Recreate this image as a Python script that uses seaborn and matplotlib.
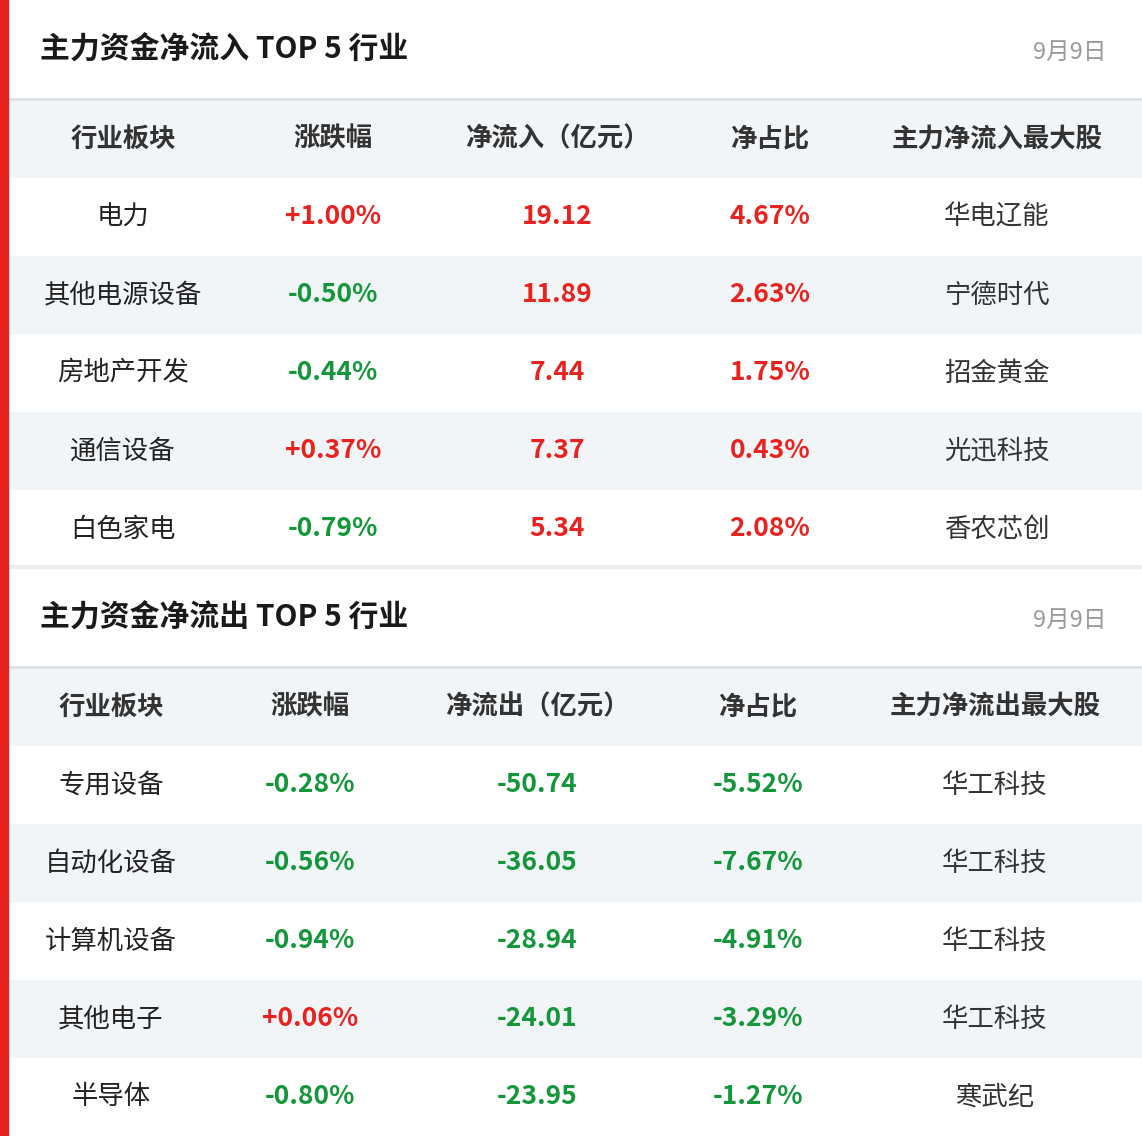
import seaborn as sns
import matplotlib.pyplot as plt

sns.set_theme(style="white")
plt.rcParams['font.family'] = ['Noto Sans CJK SC', 'DejaVu Sans']

date = "9月9日"
in_title = "主力资金净流入 TOP 5 行业"
in_header = ["行业板块", "涨跌幅", "净流入（亿元）", "净占比", "主力净流入最大股"]
in_sector = ["电力", "其他电源设备", "房地产开发", "通信设备", "白色家电"]
in_change = [1.00, -0.50, -0.44, 0.37, -0.79]
in_flow = [19.12, 11.89, 7.44, 7.37, 5.34]
in_ratio = [4.67, 2.63, 1.75, 0.43, 2.08]
in_stock = ["华电辽能", "宁德时代", "招金黄金", "光迅科技", "香农芯创"]

out_title = "主力资金净流出 TOP 5 行业"
out_header = ["行业板块", "涨跌幅", "净流出（亿元）", "净占比", "主力净流出最大股"]
out_sector = ["专用设备", "自动化设备", "计算机设备", "其他电子", "半导体"]
out_change = [-0.28, -0.56, -0.94, 0.06, -0.80]
out_flow = [-50.74, -36.05, -28.94, -24.01, -23.95]
out_ratio = [-5.52, -7.67, -4.91, -3.29, -1.27]
out_stock = ["华工科技", "华工科技", "华工科技", "华工科技", "寒武纪"]

RED, GREEN, GRAY_BG = "#e8231f", "#13973a", "#f2f5f8"
W, H = 1142, 1136

fig = plt.figure(figsize=(W / 100, H / 100), dpi=100)
ax = fig.add_axes([0, 0, 1, 1])
ax.set_xlim(0, W)
ax.set_ylim(H, 0)
ax.axis("off")

ax.axvspan(0, 8, color=RED, zorder=3)


def col(v):
    return RED if v > 0 else GREEN


def draw_table(top, title, header, sector, change, flow, ratio, stock, xs):
    ax.text(40, top + 50, title, fontsize=21.5, fontweight="bold", color="#1a1a1a", va="center")
    ax.text(1107, top + 52, date, fontsize=17, color="#9a9a9a", va="center", ha="right")
    ax.plot([8, W], [top + 99, top + 99], color="#dde1e5", lw=2)
    rh = 78
    y0 = top + 100
    ax.axhspan(y0, y0 + rh, xmin=8 / W, color=GRAY_BG, lw=0)
    for x, h in zip(xs, header):
        ax.text(x, y0 + rh / 2, h, fontsize=19, fontweight="bold", color="#333333", ha="center", va="center")
    for i in range(len(sector)):
        ry = y0 + rh * (i + 1)
        if i % 2 == 1:
            ax.axhspan(ry, ry + rh, xmin=8 / W, color=GRAY_BG, lw=0)
        cy = ry + rh / 2
        ax.text(xs[0], cy, sector[i], fontsize=19, color="#222222", ha="center", va="center")
        ax.text(xs[1], cy, f"{change[i]:+.2f}%", fontsize=19, fontweight="bold", color=col(change[i]), ha="center", va="center")
        ax.text(xs[2], cy, f"{flow[i]:.2f}", fontsize=19, fontweight="bold", color=col(flow[i]), ha="center", va="center")
        ax.text(xs[3], cy, f"{ratio[i]:.2f}%", fontsize=19, fontweight="bold", color=col(ratio[i]), ha="center", va="center")
        ax.text(xs[4], cy, stock[i], fontsize=19, color="#333333", ha="center", va="center")


draw_table(0, in_title, in_header, in_sector, in_change, in_flow, in_ratio, in_stock,
           [123, 333, 557, 770, 997])
ax.plot([8, W], [567, 567], color="#eeeeee", lw=3)
draw_table(568, out_title, out_header, out_sector, out_change, out_flow, out_ratio, out_stock,
           [111, 310, 537, 758, 995])

fig.savefig("out.png", dpi=100)
